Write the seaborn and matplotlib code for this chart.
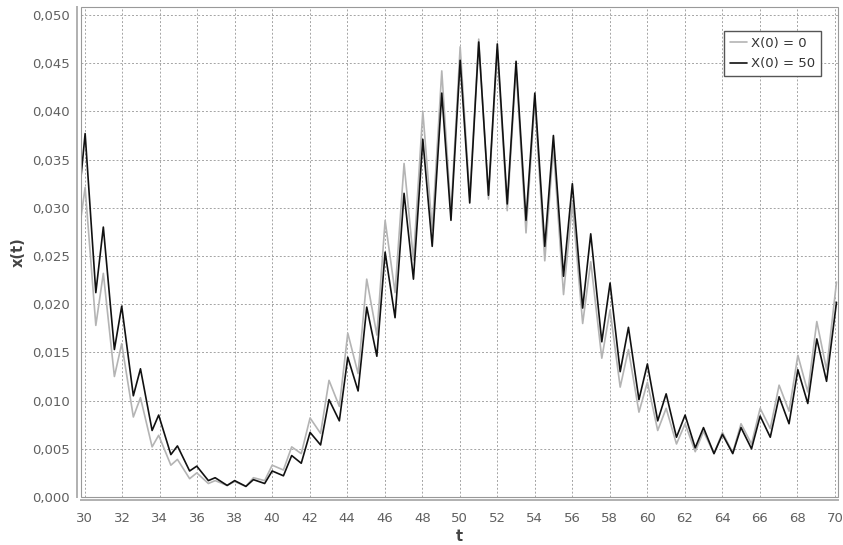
import matplotlib
matplotlib.use("Agg")
import numpy as np
import pandas as pd
import matplotlib.pyplot as plt
import seaborn as sns
from matplotlib.ticker import FuncFormatter
from matplotlib.patches import Rectangle

# ---- data (peaks and troughs) ----
t_points = [29.81, 30.03, 30.60, 31.00, 31.59, 31.98, 32.60, 32.98, 33.60, 33.95,
            34.60, 34.95, 35.60, 35.98, 36.60, 36.96, 37.60, 38.00, 38.60, 39.00,
            39.60, 40.00, 40.60, 41.04, 41.55, 42.02, 42.58, 43.03, 43.58, 44.03,
            44.58, 45.04, 45.58, 46.02, 46.55, 47.03, 47.53, 48.03, 48.53, 49.04,
            49.53, 50.02, 50.53, 51.01, 51.53, 52.00, 52.53, 53.00, 53.53, 54.00,
            54.53, 54.99, 55.53, 56.00, 56.55, 56.98, 57.57, 58.01, 58.55, 58.99,
            59.55, 60.00, 60.55, 61.00, 61.55, 62.01, 62.55, 62.99, 63.55, 64.00,
            64.55, 64.99, 65.55, 66.01, 66.55, 67.02, 67.55, 68.02, 68.55, 69.03,
            69.55, 70.08]

x_start_50 = [0.0332, 0.0377, 0.0212, 0.0280, 0.0153, 0.0198, 0.0105, 0.0133, 0.0069, 0.0085,
              0.0044, 0.0053, 0.0027, 0.0032, 0.0017, 0.0020, 0.0012, 0.0017, 0.0011, 0.0018,
              0.0014, 0.0027, 0.0022, 0.0043, 0.0035, 0.0067, 0.0054, 0.0101, 0.0079, 0.0145,
              0.0110, 0.0197, 0.0146, 0.0254, 0.0186, 0.0315, 0.0226, 0.0371, 0.0260, 0.0419,
              0.0287, 0.0453, 0.0305, 0.0472, 0.0313, 0.0470, 0.0304, 0.0452, 0.0287, 0.0419,
              0.0260, 0.0375, 0.0229, 0.0325, 0.0196, 0.0273, 0.0161, 0.0222, 0.0130, 0.0176,
              0.0101, 0.0138, 0.0079, 0.0107, 0.0062, 0.0085, 0.0051, 0.0072, 0.0045, 0.0065,
              0.0045, 0.0072, 0.0050, 0.0084, 0.0062, 0.0104, 0.0076, 0.0132, 0.0097, 0.0164,
              0.0120, 0.0202]

x_start_0 = [0.0290, 0.0321, 0.0178, 0.0232, 0.0125, 0.0159, 0.0083, 0.0103, 0.0052, 0.0064,
             0.0033, 0.0039, 0.0019, 0.0025, 0.0014, 0.0017, 0.0012, 0.0016, 0.0011, 0.0020,
             0.0017, 0.0033, 0.0028, 0.0052, 0.0045, 0.0082, 0.0066, 0.0121, 0.0094, 0.0170,
             0.0128, 0.0226, 0.0168, 0.0287, 0.0212, 0.0346, 0.0246, 0.0400, 0.0277, 0.0442,
             0.0295, 0.0467, 0.0311, 0.0475, 0.0309, 0.0464, 0.0297, 0.0445, 0.0274, 0.0412,
             0.0245, 0.0363, 0.0210, 0.0305, 0.0180, 0.0244, 0.0144, 0.0194, 0.0114, 0.0153,
             0.0088, 0.0119, 0.0069, 0.0092, 0.0055, 0.0076, 0.0047, 0.0068, 0.0045, 0.0067,
             0.0046, 0.0076, 0.0055, 0.0092, 0.0071, 0.0116, 0.0089, 0.0147, 0.0109, 0.0182,
             0.0132, 0.0223]

series_labels = ["X(0) = 0", "X(0) = 50"]
x_ticks = list(range(30, 71, 2))
y_ticks = [0.000, 0.005, 0.010, 0.015, 0.020, 0.025, 0.030, 0.035, 0.040, 0.045, 0.050]

df = pd.concat([
    pd.DataFrame({"t": t_points, "x": x_start_0, "series": series_labels[0]}),
    pd.DataFrame({"t": t_points, "x": x_start_50, "series": series_labels[1]}),
])

# ---- figure ----
sns.set_style("white")
plt.rcParams["font.family"] = ["DejaVu Sans"]
plt.rcParams["lines.solid_joinstyle"] = "round"

W, H = 843, 545
fig = plt.figure(figsize=(W / 100, H / 100), dpi=100)
L, R, T, B = 81, 838, 7, 497
ax = fig.add_axes([L / W, 1 - B / H, (R - L) / W, (B - T) / H])

sns.lineplot(data=df, x="t", y="x", hue="series", hue_order=series_labels,
             palette={series_labels[0]: "#b4b4b4", series_labels[1]: "#111111"},
             estimator=None, sort=False, linewidth=1.2, ax=ax)

ax.set_xlim(29.81, 70.16)
ax.set_ylim(0.0, 0.05083)
ax.set_xticks(x_ticks)
ax.set_yticks(y_ticks)
ax.yaxis.set_major_formatter(FuncFormatter(lambda v, p: f"{v:.3f}".replace(".", ",")))
ax.xaxis.set_major_formatter(FuncFormatter(lambda v, p: f"{int(round(v))}"))

ax.grid(True, color="#a4a4a4", linestyle=(0, (2, 2)), linewidth=0.7)
ax.set_axisbelow(True)

for s in ["top", "right"]:
    ax.spines[s].set_visible(False)
ax.spines["left"].set_position(("outward", 3))
ax.spines["bottom"].set_position(("outward", 2))
for s in ["left", "bottom"]:
    ax.spines[s].set_color("#b0b0b0")
    ax.spines[s].set_linewidth(1.4)
ax.add_patch(Rectangle((0, 0), 1, 1, transform=ax.transAxes, fill=False,
                       edgecolor="#999999", linewidth=0.8, clip_on=False, zorder=5))

ax.tick_params(axis="both", colors="#999999", labelcolor="#606060", labelsize=9.5,
               length=3, width=0.8, direction="out")
ax.tick_params(axis="x", pad=6)
ax.tick_params(axis="y", pad=2.2)

ax.set_xlabel("t", fontsize=10.5, fontweight="bold", color="#444444")
ax.set_ylabel("x(t)", fontsize=10.5, fontweight="bold", color="#444444")
ax.xaxis.set_label_coords(0.5, -0.066)
ax.yaxis.set_label_coords(-0.073, 0.5)

handles, labels = ax.get_legend_handles_labels()
leg = ax.legend(handles, labels, loc="upper right",
                bbox_to_anchor=(821 / W, 1 - 31 / H), bbox_transform=fig.transFigure,
                frameon=True, fancybox=False, edgecolor="#555555", framealpha=1,
                borderaxespad=0, handlelength=1.3, handletextpad=0.3,
                labelspacing=0.55, borderpad=0.45, fontsize=9.5)
leg.get_frame().set_linewidth(1.0)
for txt in leg.get_texts():
    txt.set_color("#333333")

fig.savefig("out.png", dpi=100)
